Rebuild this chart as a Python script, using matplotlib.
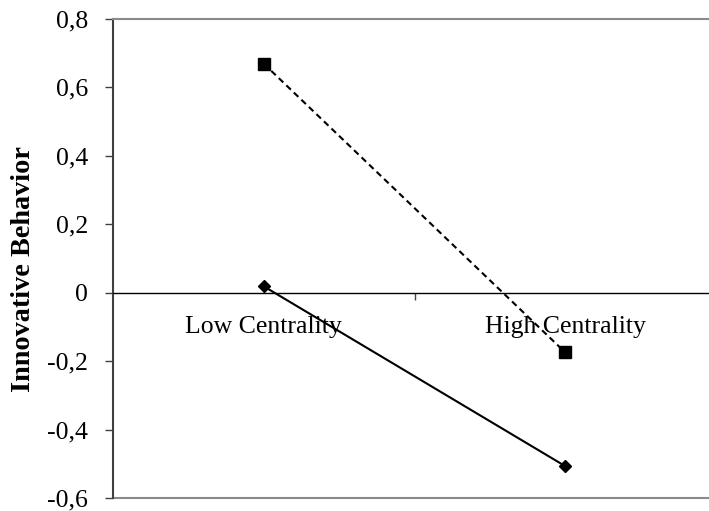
import matplotlib
matplotlib.use("Agg")
import matplotlib.pyplot as plt
from matplotlib.ticker import FixedLocator, FuncFormatter

plt.rcParams['font.family'] = ['Liberation Serif', 'DejaVu Serif']

categories = ["Low Centrality", "High Centrality"]
series_dashed = [0.668, -0.175]   # squares, dashed line
series_solid = [0.018, -0.507]    # diamonds, solid line
yticks = [-0.6, -0.4, -0.2, 0.0, 0.2, 0.4, 0.6, 0.8]

fig = plt.figure(figsize=(7.09, 5.11), dpi=100)
W, H = 709, 511
left, right, top, bottom = 113, 716, 18.5, 498
ax = fig.add_axes([left / W, (H - bottom) / H, (right - left) / W, (bottom - top) / H])

xpos = [0.5, 1.5]
ax.plot(xpos, series_dashed, color='black', lw=1.5, ls=(0, (3, 2)),
        marker='s', ms=9, mfc='black', mec='black')
ax.plot(xpos, series_solid, color='black', lw=1.5, ls='-',
        marker='D', ms=6, mfc='black', mec='black')

ax.set_xlim(0, 2)
ax.set_ylim(-0.6, 0.8)

ax.set_yticks(yticks)
ax.yaxis.set_major_formatter(FuncFormatter(lambda v, p: ("%.1f" % v).replace('.', ',') if abs(v) > 1e-9 else "0"))
ax.tick_params(axis='y', direction='out', length=6, width=1, pad=12, labelsize=18.5, color='#404040')

# x axis at y=0
ax.spines['bottom'].set_position(('data', 0))
ax.spines['bottom'].set_color('black')
ax.spines['bottom'].set_linewidth(1.0)
ax.xaxis.set_major_locator(FixedLocator([1.0]))
ax.xaxis.set_major_formatter(FuncFormatter(lambda v, p: ""))
ax.xaxis.set_minor_locator(FixedLocator(xpos))
ax.xaxis.set_minor_formatter(FuncFormatter(lambda v, p: categories[int(v)]))
ax.tick_params(axis='x', which='major', direction='out', length=5, width=1, color='#444444')
ax.tick_params(axis='x', which='minor', length=0, pad=17, labelsize=18.5)

ax.spines['left'].set_color('#404040')
ax.spines['left'].set_linewidth(1.5)
ax.spines['top'].set_color('#8a8a8a')
ax.spines['top'].set_linewidth(1.5)
ax.spines['right'].set_visible(False)
ax.axhline(-0.6, color='#8a8a8a', lw=1.5, clip_on=False)

ax.set_ylabel("Innovative Behavior", fontsize=20.3, fontweight='bold')
ax.yaxis.set_label_coords(-0.128, 0.477)

fig.savefig("out.png", dpi=100)
